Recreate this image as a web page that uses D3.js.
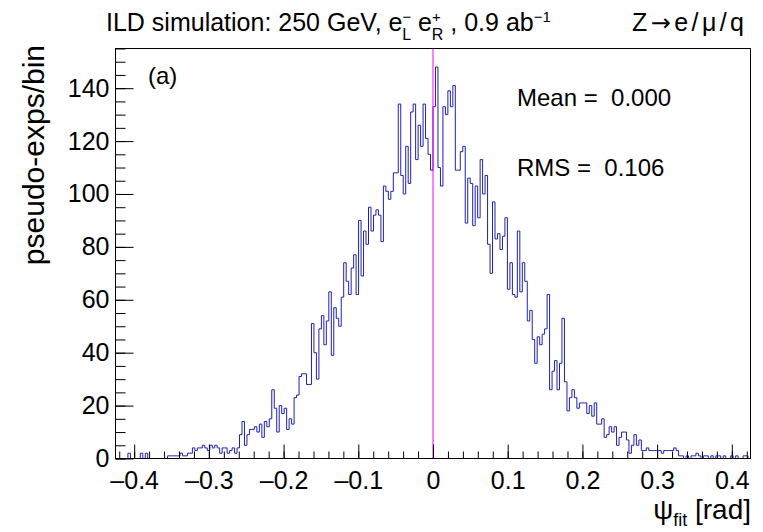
<!DOCTYPE html>
<html>
<head>
<meta charset="utf-8">
<style>
  body { margin: 0; background: #fff; }
  svg text { font-family: 'Liberation Sans', Arial, Helvetica, sans-serif; fill: #000; }
</style>
</head>
<body>
<svg id="chart" width="763" height="532"></svg>
<script src="https://cdn.jsdelivr.net/npm/d3@7"></script>
<script>
// entries per bin, 256 bins from -0.425 to 0.425
const counts = [
  0, 0, 0, 0, 0, 2, 0, 0, 0, 0,   2, 0, 2, 0, 0, 0, 0, 0, 0, 0,
  0, 1, 1, 1, 1, 1, 2, 1, 1, 2,   2, 4, 3, 4, 4, 5, 4, 3, 5, 4,
  5, 4, 2, 4, 4, 2, 3, 4, 2, 4,   9, 14, 5, 9, 11, 11, 12, 10, 13, 8,
  14, 12, 15, 26, 19, 10, 20, 17, 19, 11,   15, 13, 23, 24, 31, 32, 32, 28, 28, 51,
  40, 30, 49, 54, 43, 52, 63, 39, 57, 53,   50, 61, 74, 67, 62, 72, 77, 62, 90, 69,
  86, 81, 95, 86, 92, 94, 92, 82, 103, 101,   98, 101, 108, 108, 134, 107, 100, 118, 104, 131,
  134, 113, 126, 118, 134, 121, 115, 109,
  133, 148, 110, 103, 133, 130, 139, 133, 141, 109,   109, 116, 118, 89, 106, 104, 88, 103, 91, 113,
  100, 107, 81, 70, 97, 83, 85, 79, 84, 91,   64, 74, 62, 61, 86, 63, 74, 67, 52, 56,
  45, 36, 46, 43, 47, 49, 62, 26, 33, 37,   26, 36, 53, 29, 18, 23, 26, 23, 19, 21,
  21, 21, 17, 20, 16, 21, 13, 13, 15, 8,   9, 12, 10, 12, 5, 8, 10, 10, 7, 2,
  5, 9, 5, 7, 3, 3, 4, 3, 3, 3,   3, 3, 2, 3, 3, 3, 3, 4, 3, 1,
  1, 0, 1, 0, 1, 1, 2, 1, 0, 1,   1, 0, 1, 0, 1, 1, 0, 1, 0, 0,
  1, 0, 1, 0, 0, 1, 1, 0
];
const xDomain = [-0.425, 0.425];
const yDomain = [0, 155];
const xMajor = [-0.4, -0.3, -0.2, -0.1, 0, 0.1, 0.2, 0.3, 0.4];
const yMajor = [0, 20, 40, 60, 80, 100, 120, 140];
const statLines = ['Mean =\u00a0 0.000', 'RMS =\u00a0 0.106'];

const svg = d3.select('#chart');
const frame = {left: 115.5, right: 750.5, top: 48.5, bottom: 458.5};

svg.append('rect').attr('width', 763).attr('height', 532).attr('fill', '#fff');

const x = d3.scaleLinear().domain(xDomain).range([frame.left, frame.right]);
const y = d3.scaleLinear().domain(yDomain).range([frame.bottom, frame.top]);

// histogram outline
const binW = (xDomain[1] - xDomain[0]) / counts.length;
const pts = [[xDomain[0], 0]];
counts.forEach((c, i) => {
  const lo = xDomain[0] + i * binW;
  pts.push([lo, c], [lo + binW, c]);
});
pts.push([xDomain[1], 0]);

svg.append('path')
   .datum(pts)
   .attr('fill', 'none')
   .attr('stroke', '#2020b0')
   .attr('stroke-width', 1)
   .attr('d', d3.line().x(d => x(d[0])).y(d => y(d[1])));

// line at zero
svg.append('line')
   .attr('x1', x(0)).attr('x2', x(0))
   .attr('y1', frame.bottom).attr('y2', frame.top)
   .attr('stroke', '#ff00ff').attr('stroke-width', 1);

// axes
const xMinor = d3.range(-0.42, 0.4201, 0.02);
const gxm = svg.append('g')
   .attr('transform', `translate(0,${frame.bottom})`)
   .call(d3.axisBottom(x).tickValues(xMinor).tickSize(-7).tickFormat(''));
const gx = svg.append('g')
   .attr('transform', `translate(0,${frame.bottom})`)
   .call(d3.axisBottom(x).tickValues(xMajor).tickSize(-14).tickPadding(13)
         .tickFormat(d => d === 0 ? '0' : d3.format('.1f')(d).replace('\u2212', '\u2013')));

const yMinor = d3.range(0, 156, 5);
const gym = svg.append('g')
   .attr('transform', `translate(${frame.left},0)`)
   .call(d3.axisLeft(y).tickValues(yMinor).tickSize(-10).tickFormat(''));
const gy = svg.append('g')
   .attr('transform', `translate(${frame.left},0)`)
   .call(d3.axisLeft(y).tickValues(yMajor).tickSize(-18).tickPadding(6));

[gxm, gx, gym, gy].forEach(g => {
  g.select('.domain').remove();
  g.selectAll('line').attr('stroke', '#000');
  g.selectAll('text').attr('font-size', 25).attr('font-family', null).attr('fill', '#000');
});

svg.append('rect')
   .attr('x', frame.left).attr('y', frame.top)
   .attr('width', frame.right - frame.left).attr('height', frame.bottom - frame.top)
   .attr('fill', 'none').attr('stroke', '#000').attr('stroke-width', 1);

// axis titles
const xt = svg.append('text')
   .attr('x', 751).attr('y', 519)
   .attr('text-anchor', 'end')
   .attr('font-size', 28);
xt.append('tspan').text('\u03c8');
xt.append('tspan').attr('font-size', 18).attr('dy', 7).text('fit');
xt.append('tspan').attr('dy', -7).text(' [rad]');

svg.append('text')
   .attr('transform', 'translate(44,45) rotate(-90)')
   .attr('text-anchor', 'end')
   .attr('font-size', 30)
   .text('pseudo-exps/bin');

// title
const t = svg.append('text').attr('x', 106).attr('y', 31).attr('font-size', 25);
t.append('tspan').text('ILD simulation: 250 GeV, e');
t.append('tspan').attr('font-size', 15).attr('dy', -9).text('\u2212');
t.append('tspan').attr('font-size', 16).attr('dx', -9).attr('dy', 18).text('L');
t.append('tspan').attr('dy', -9).text(' e');
t.append('tspan').attr('font-size', 15).attr('dy', -9).text('+');
t.append('tspan').attr('font-size', 16).attr('dx', -9).attr('dy', 18).text('R');
t.append('tspan').attr('dy', -9).text(' , 0.9 ab');
t.append('tspan').attr('font-size', 15).attr('dy', -9).text('\u22121');

const z = svg.append('text').attr('x', 632).attr('y', 31).attr('font-size', 25)
   .attr('textLength', 112).attr('lengthAdjust', 'spacing');
z.append('tspan').text('Z');
z.append('tspan').attr('font-family', 'DejaVu Sans').attr('font-size', 24).text('\u2192');
z.append('tspan').text('e/\u03bc/q');

// panel label and stats
svg.append('text').attr('x', 148).attr('y', 84).attr('font-size', 24).text('(a)');

svg.selectAll('.stat')
   .data(statLines)
   .enter()
   .append('text')
   .attr('class', 'stat')
   .attr('x', 517)
   .attr('y', (d, i) => 106 + i * 70)
   .attr('font-size', 24)
   .text(d => d);
</script>
</body>
</html>
